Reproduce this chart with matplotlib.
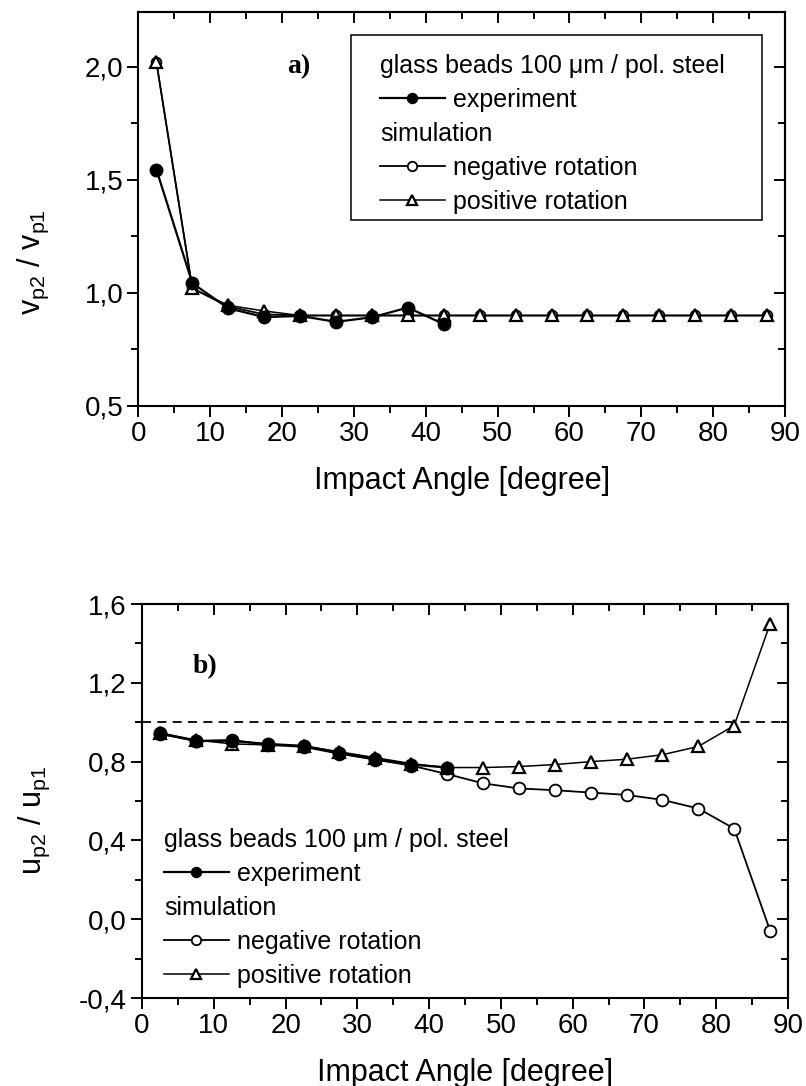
import matplotlib
matplotlib.use("Agg")
import matplotlib.pyplot as plt
from matplotlib.lines import Line2D
from matplotlib.patches import Rectangle
from matplotlib.ticker import MultipleLocator, FuncFormatter

plt.rcParams['font.family'] = ['Liberation Sans', 'DejaVu Sans']
plt.rcParams['mathtext.fontset'] = 'custom'
plt.rcParams['mathtext.rm'] = 'Liberation Sans'
plt.rcParams['mathtext.it'] = 'Liberation Sans:italic'
plt.rcParams['mathtext.bf'] = 'Liberation Sans:bold'

# Impact angles (degree)
angle = [2.5, 7.5, 12.5, 17.5, 22.5, 27.5, 32.5, 37.5, 42.5,
         47.5, 52.5, 57.5, 62.5, 67.5, 72.5, 77.5, 82.5, 87.5]
angle_exp = angle[:9]

# a) normal velocity ratio v_p2 / v_p1
v_exp = [1.545, 1.043, 0.932, 0.893, 0.898, 0.872, 0.892, 0.935, 0.862]
v_neg = [2.02, 1.02, 0.94, 0.905, 0.90, 0.90, 0.90, 0.90, 0.90,
         0.90, 0.90, 0.90, 0.90, 0.90, 0.90, 0.90, 0.90, 0.90]
v_pos = [2.02, 1.02, 0.945, 0.92, 0.90, 0.90, 0.90, 0.90, 0.90,
         0.90, 0.90, 0.90, 0.90, 0.90, 0.90, 0.90, 0.90, 0.90]

# b) tangential velocity ratio u_p2 / u_p1
u_exp = [0.945, 0.905, 0.905, 0.89, 0.88, 0.845, 0.815, 0.785, 0.77]
u_neg = [0.94, 0.905, 0.91, 0.885, 0.875, 0.84, 0.81, 0.78, 0.737,
         0.69, 0.664, 0.655, 0.643, 0.631, 0.606, 0.562, 0.46, -0.058]
u_pos = [0.945, 0.91, 0.89, 0.885, 0.88, 0.85, 0.82, 0.79, 0.77,
         0.77, 0.775, 0.785, 0.80, 0.812, 0.835, 0.877, 0.983, 1.50]
u_reference = 1.0

x_ticks = [0, 10, 20, 30, 40, 50, 60, 70, 80, 90]

legend_title = "glass beads 100 \u03bcm / pol. steel"
legend_group = "simulation"
labels = ["experiment", "negative rotation", "positive rotation"]

TICK_FS = 20
LEG_FS = 18
LABEL_FS = 22


def comma(v, pos):
    return f"{v:.1f}".replace('.', ',')


def style_axes(ax, ymajor, yminor):
    ax.set_xlim(0, 90)
    ax.set_xticks(x_ticks)
    ax.xaxis.set_minor_locator(MultipleLocator(5))
    ax.yaxis.set_major_locator(MultipleLocator(ymajor))
    ax.yaxis.set_minor_locator(MultipleLocator(yminor))
    ax.yaxis.set_major_formatter(FuncFormatter(comma))
    ax.tick_params(which='major', direction='out', length=8, width=1.4,
                   labelsize=TICK_FS, pad=3)
    ax.tick_params(which='minor', direction='out', length=5, width=1.4)
    for s in ax.spines.values():
        s.set_linewidth(1.5)
    top = ax.secondary_xaxis('top')
    top.set_xticks(x_ticks)
    top.xaxis.set_minor_locator(MultipleLocator(5))
    top.tick_params(which='major', direction='in', length=8, width=1.4,
                    labeltop=False)
    top.tick_params(which='minor', direction='in', length=5, width=1.4)
    top.spines['top'].set_linewidth(1.5)
    right = ax.secondary_yaxis('right')
    right.yaxis.set_major_locator(MultipleLocator(ymajor))
    right.yaxis.set_minor_locator(MultipleLocator(yminor))
    right.tick_params(which='major', direction='in', length=8, width=1.4,
                      labelright=False)
    right.tick_params(which='minor', direction='in', length=5, width=1.4)
    right.spines['right'].set_linewidth(1.5)


def draw_series(ax, y_exp, y_neg, y_pos, neg_size):
    h_neg, = ax.plot(angle, y_neg, '-', color='black', lw=1.3, marker='o',
                     ms=neg_size, mfc='white', mec='black', mew=1.3, zorder=3)
    h_pos, = ax.plot(angle, y_pos, '-', color='black', lw=1.1, marker='^',
                     ms=9, mfc='white', mec='black', mew=1.6, zorder=4)
    h_exp, = ax.plot(angle_exp, y_exp, '-', color='black', lw=1.6, marker='o',
                     ms=9, mfc='black', mec='black', zorder=5)
    return h_exp, h_neg, h_pos


def add_legend(ax, handles, anchor):
    blank = Line2D([], [], ls='none')
    neg_handle = Line2D([], [], color='black', lw=1.3, marker='o', ms=8.5,
                        mfc='white', mec='black', mew=1.3)
    leg = ax.legend([blank, handles[0], blank, neg_handle, handles[2]],
                    [legend_title, labels[0], legend_group, labels[1], labels[2]],
                    loc='upper left', bbox_to_anchor=anchor, frameon=False,
                    fontsize=LEG_FS, handlelength=2.6, handletextpad=0.32,
                    labelspacing=0.40, borderpad=0, borderaxespad=0,
                    markerscale=0.8)
    # header rows start at the left edge, without a handle slot
    col = leg._legend_handle_box.get_children()[0]
    rows = col.get_children()
    for i in (0, 2):
        rows[i]._children = [rows[i].get_children()[1]]
    return leg


fig = plt.figure(figsize=(8.06, 10.86), dpi=100)
ax_a = fig.add_axes([0.1718, 0.6262, 0.8021, 0.3623])
ax_b = fig.add_axes([0.1762, 0.0810, 0.8015, 0.3628])

# panel a
hs = draw_series(ax_a, v_exp, v_neg, v_pos, neg_size=7)
ax_a.set_ylim(0.5, 2.24)
style_axes(ax_a, 0.5, 0.25)
add_legend(ax_a, hs, (0.3735, 0.895))
ax_a.add_patch(Rectangle((0.3287, 0.473), 0.6357, 0.4698, transform=ax_a.transAxes,
                         fill=False, ec='black', lw=1.1, zorder=6))
ax_a.text(20.7, 2.0, 'a)', fontfamily='Liberation Serif', fontweight='bold',
          fontsize=20, ha='left', va='center')
ax_a.set_xlabel('Impact Angle [degree]', fontsize=LABEL_FS)
ax_a.xaxis.set_label_coords(0.5, -0.19)
ax_a.xaxis.label.set_va('center')
ax_a.set_ylabel(r'v$_{\rm p2}$ / v$_{\rm p1}$', fontsize=LABEL_FS)
ax_a.yaxis.set_label_coords(-0.163, 0.366)
ax_a.yaxis.label.set_va('center')

# panel b
hs = draw_series(ax_b, u_exp, u_neg, u_pos, neg_size=8.5)
ax_b.axhline(u_reference, color='black', lw=1.3, ls=(0, (5, 3.5)), zorder=2)
ax_b.set_ylim(-0.4, 1.6)
style_axes(ax_b, 0.4, 0.2)
add_legend(ax_b, hs, (0.034, 0.432))
ax_b.text(7.1, 1.284, 'b)', fontfamily='Liberation Serif', fontweight='bold',
          fontsize=20, ha='left', va='center')
ax_b.set_xlabel('Impact Angle [degree]', fontsize=LABEL_FS)
ax_b.xaxis.set_label_coords(0.5, -0.19)
ax_b.xaxis.label.set_va('center')
ax_b.set_ylabel(r'u$_{\rm p2}$ / u$_{\rm p1}$', fontsize=LABEL_FS)
ax_b.yaxis.set_label_coords(-0.166, 0.45)
ax_b.yaxis.label.set_va('center')

fig.savefig('out.png', dpi=100, facecolor='white')
